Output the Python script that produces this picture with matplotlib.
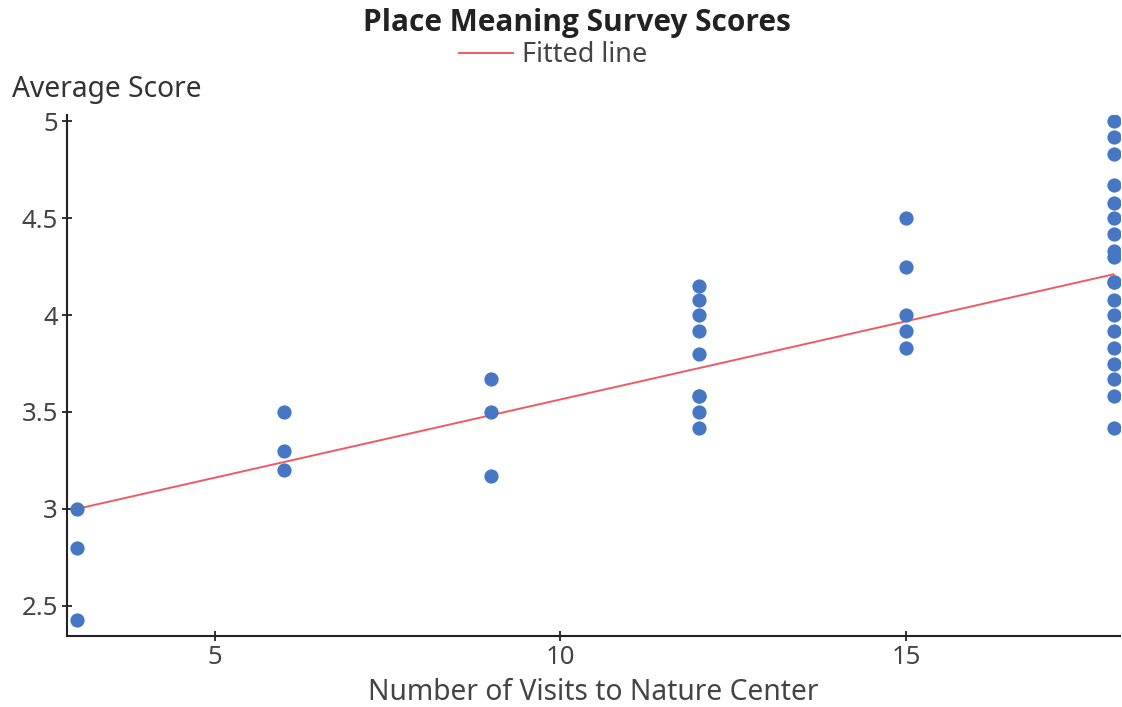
import matplotlib
matplotlib.use("Agg")
import matplotlib.pyplot as plt

plt.rcParams['font.family'] = ['Noto Sans', 'DejaVu Sans']

# Survey data
visits = [3, 3, 3,
          6, 6, 6,
          9, 9, 9,
          12, 12, 12, 12, 12, 12, 12, 12, 12,
          15, 15, 15, 15, 15,
          18, 18, 18, 18, 18, 18, 18, 18, 18, 18, 18, 18, 18, 18, 18, 18, 18, 18, 18]
scores = [3.0, 2.8, 2.43,
          3.5, 3.3, 3.2,
          3.67, 3.5, 3.17,
          4.15, 4.08, 4.0, 3.92, 3.8, 3.58, 3.58, 3.5, 3.42,
          4.5, 4.25, 4.0, 3.92, 3.83,
          5.0, 4.92, 4.83, 4.67, 4.58, 4.5, 4.42, 4.33, 4.3, 4.17, 4.08, 4.0,
          3.92, 3.83, 3.75, 3.67, 3.58, 3.42, 4.17]

# fitted line end points
fit_x = [3, 18]
fit_y = [3.0, 4.21]

fig = plt.figure(figsize=(11.22, 7.07), dpi=100)
ax = fig.add_axes([0.0597, 0.1004, 0.9383, 0.7366])

ax.scatter(visits, scores, s=105, color='#4677C4', zorder=3, linewidths=0)
line, = ax.plot(fit_x, fit_y, color='#EF5A62', lw=1.4, zorder=2, label='Fitted line')

ax.set_xlim(2.861, 18.09)
ax.set_ylim(2.345, 5.03)
ax.set_xticks([5, 10, 15])
ax.set_yticks([2.5, 3, 3.5, 4, 4.5, 5])
ax.set_yticklabels(['2.5', '3', '3.5', '4', '4.5', '5'])

for s in ['top', 'right']:
    ax.spines[s].set_visible(False)
for s in ['left', 'bottom']:
    ax.spines[s].set_linewidth(1.5)
    ax.spines[s].set_color('#222222')

ax.tick_params(direction='inout', length=7, width=1.3, colors='#222222',
               labelsize=18.5, labelcolor='#444444', pad=3)

ax.set_xlabel('Number of Visits to Nature Center', fontsize=20.3, color='#444444', labelpad=6)
fig.text(12 / 1122, 1 - 90 / 707, 'Average Score', fontsize=20.3, color='#333333',
         ha='left', va='center')

fig.text(577 / 1122, 1 - 23 / 707, 'Place Meaning Survey Scores', fontsize=21.5,
         fontweight='bold', family=['Open Sans', 'DejaVu Sans'], color='#222222',
         ha='center', va='center')
fig.legend(handles=[line], loc='center', bbox_to_anchor=(553 / 1122, 1 - 55 / 707),
           frameon=False, fontsize=19.5, handlelength=2.0, handletextpad=0.3,
           labelcolor='#444444')

fig.savefig('out.png', dpi=100)
